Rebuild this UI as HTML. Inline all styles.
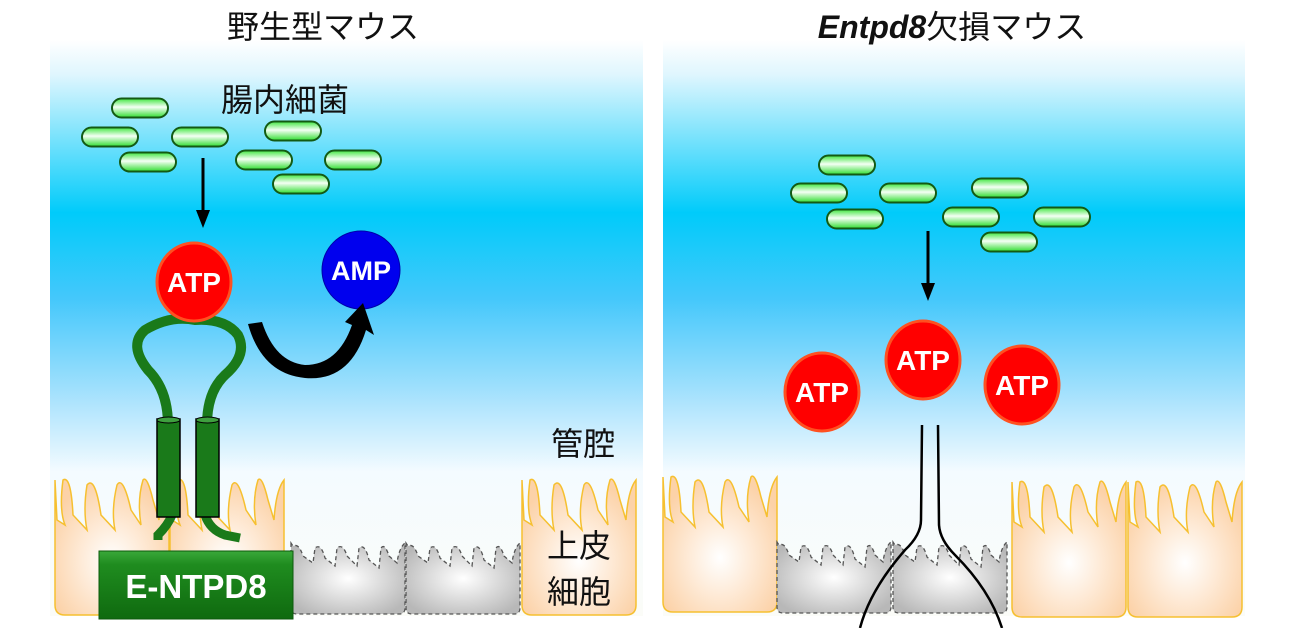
<!DOCTYPE html>
<html><head><meta charset="utf-8"><style>
html,body{margin:0;padding:0;background:#fff;width:1300px;height:628px;overflow:hidden}
svg{display:block}
text{font-family:"Liberation Sans","Noto Sans CJK JP",sans-serif}
</style></head><body>
<svg width="1300" height="628" viewBox="0 0 1300 628" xmlns="http://www.w3.org/2000/svg">
<defs>
<linearGradient id="bg" x1="0" y1="0" x2="0" y2="1">
<stop offset="0" stop-color="#ffffff"/>
<stop offset="0.06" stop-color="#dff6fe"/>
<stop offset="0.3" stop-color="#00cbfa"/>
<stop offset="0.45" stop-color="#45c8fb"/>
<stop offset="0.62" stop-color="#a8e2fd"/>
<stop offset="0.75" stop-color="#f4fbff"/>
<stop offset="1" stop-color="#fbfcf8"/>
</linearGradient>
<linearGradient id="bac" x1="0" y1="0" x2="0" y2="1">
<stop offset="0" stop-color="#3ee63e"/>
<stop offset="0.45" stop-color="#f4fff4"/>
<stop offset="1" stop-color="#30dd30"/>
</linearGradient>
<radialGradient id="cell" cx="0.5" cy="0.6" r="0.6">
<stop offset="0" stop-color="#ffffff"/>
<stop offset="1" stop-color="#fcd2a8"/>
</radialGradient>
<radialGradient id="gcell" cx="0.5" cy="0.5" r="0.6">
<stop offset="0" stop-color="#ffffff"/>
<stop offset="1" stop-color="#b8b8b8"/>
</radialGradient>
<linearGradient id="box" x1="0" y1="0" x2="0" y2="1">
<stop offset="0" stop-color="#3aa83a"/>
<stop offset="0.2" stop-color="#1f8c1f"/>
<stop offset="1" stop-color="#0f6a0f"/>
</linearGradient>
<g id="b"><rect x="-28" y="-9.5" width="56" height="19" rx="9.5" fill="url(#bac)" stroke="#135a13" stroke-width="2"/></g>
<g id="atp"><ellipse cx="0" cy="0" rx="37" ry="39" fill="#ff0000" stroke="#ff5020" stroke-width="3"/><text x="0" y="10" text-anchor="middle" font-size="28" font-weight="bold" fill="#fff">ATP</text></g>
<g id="oc"><path d="M0,10 L0,135 Q0,145 10,145 L104,145 Q114,145 114,135 L114,10 Q106,20 104,50 L98,30 Q92,5 88,10 Q82,30 86,55 L76,40 Q68,5 62,15 Q56,40 60,60 L46,45 Q40,5 32,15 Q28,40 32,60 L18,45 Q16,5 8,10 Q4,40 10,55 L2,50 Z" fill="url(#cell)" stroke="#f6c030" stroke-width="1.5"/></g>
<g id="gc"><path d="M0,5 L0,70 Q0,76 6,76 L108,76 Q114,76 114,70 L114,5 Q108,10 106,25 L98,18 Q94,5 90,10 L88,30 L78,22 Q74,5 68,10 L66,28 L56,18 Q52,5 46,10 L44,28 L34,20 Q30,5 24,10 L22,25 L12,18 Q8,5 2,8 Z" fill="url(#gcell)" stroke="#555" stroke-width="1.3" stroke-dasharray="4,3"/></g>
</defs>

<rect x="50" y="40" width="593" height="576" fill="url(#bg)"/>
<rect x="663" y="40" width="582" height="576" fill="url(#bg)"/>

<text x="323" y="38" text-anchor="middle" font-size="32" fill="#111">野生型マウス</text>
<text x="952" y="38" text-anchor="middle" font-size="32" fill="#111"><tspan font-style="italic" font-weight="bold">Entpd8</tspan>欠損マウス</text>
<text x="285" y="111" text-anchor="middle" font-size="32" fill="#111">腸内細菌</text>

<use href="#b" x="140" y="108"/><use href="#b" x="110" y="137"/><use href="#b" x="200" y="137"/>
<use href="#b" x="293" y="131"/><use href="#b" x="148" y="162"/><use href="#b" x="264" y="160"/>
<use href="#b" x="353" y="160"/><use href="#b" x="301" y="184"/>

<use href="#b" x="847" y="165"/><use href="#b" x="819" y="193"/><use href="#b" x="908" y="193"/>
<use href="#b" x="1000" y="188"/><use href="#b" x="855" y="219"/><use href="#b" x="971" y="217"/>
<use href="#b" x="1062" y="217"/><use href="#b" x="1009" y="242"/>

<line x1="203" y1="158" x2="203" y2="212" stroke="#000" stroke-width="3"/>
<polygon points="196,210 210,210 203,228" fill="#000"/>
<line x1="928" y1="231" x2="928" y2="285" stroke="#000" stroke-width="3"/>
<polygon points="921,283 935,283 928,301" fill="#000"/>

<use href="#oc" x="55" y="470"/>
<use href="#oc" x="170" y="470"/>
<use href="#gc" x="291" y="538"/>
<use href="#gc" x="406" y="538"/>
<use href="#oc" x="522" y="470"/>

<use href="#oc" x="663" y="467"/>
<use href="#gc" x="777" y="537"/>
<use href="#gc" x="893" y="537"/>
<use href="#oc" x="1012" y="472"/>
<use href="#oc" x="1128" y="472"/>

<path d="M168,425 Q168,390 148,370 Q128,345 145,330 Q170,315 195,320 Q225,318 238,335 Q248,355 225,375 Q207,392 207,425" fill="none" stroke="#1a7a1a" stroke-width="10" stroke-linecap="round"/>
<path d="M172,515 Q168,525 158,535 L158,540" fill="none" stroke="#1a7a1a" stroke-width="9"/>
<path d="M205,515 Q210,530 225,535 L240,538" fill="none" stroke="#1a7a1a" stroke-width="9"/>
<rect x="157" y="419" width="23" height="98" fill="#1a7a1a" stroke="#000" stroke-width="1.5"/>
<ellipse cx="168.5" cy="420" rx="11.5" ry="3" fill="#3fa03f" stroke="#000" stroke-width="1"/>
<rect x="196" y="419" width="23" height="98" fill="#1a7a1a" stroke="#000" stroke-width="1.5"/>
<ellipse cx="207.5" cy="420" rx="11.5" ry="3" fill="#3fa03f" stroke="#000" stroke-width="1"/>

<rect x="99" y="551" width="194" height="68" fill="url(#box)" stroke="#0c5a0c" stroke-width="1"/>
<text x="196" y="598" text-anchor="middle" font-size="33" font-weight="bold" fill="#fff">E-NTPD8</text>

<use href="#atp" x="194" y="282"/>
<ellipse cx="361" cy="270" rx="39" ry="39" fill="#0000ee" stroke="#0000aa" stroke-width="1"/>
<text x="361" y="280" text-anchor="middle" font-size="27" font-weight="bold" fill="#fff">AMP</text>

<path d="M248,324 L262,322 Q275,362 305,365 Q338,365 352,325 L345,322 L363,303 L374,335 L366,330 Q350,382 305,378 Q262,374 248,324 Z" fill="#000"/>

<text x="583" y="455" text-anchor="middle" font-size="32" fill="#111">管腔</text>
<text x="579" y="557" text-anchor="middle" font-size="32" fill="#111">上皮</text>
<text x="579" y="603" text-anchor="middle" font-size="32" fill="#111">細胞</text>

<use href="#atp" x="822" y="392"/>
<use href="#atp" x="923" y="360"/>
<use href="#atp" x="1022" y="385"/>

<path d="M922,425 L921,520 Q921,535 905,550 Q870,590 860,628" fill="none" stroke="#000" stroke-width="2.5"/>
<path d="M938,425 L939,525 Q940,540 955,555 Q990,590 1002,628" fill="none" stroke="#000" stroke-width="2.5"/>
</svg>
</body></html>
